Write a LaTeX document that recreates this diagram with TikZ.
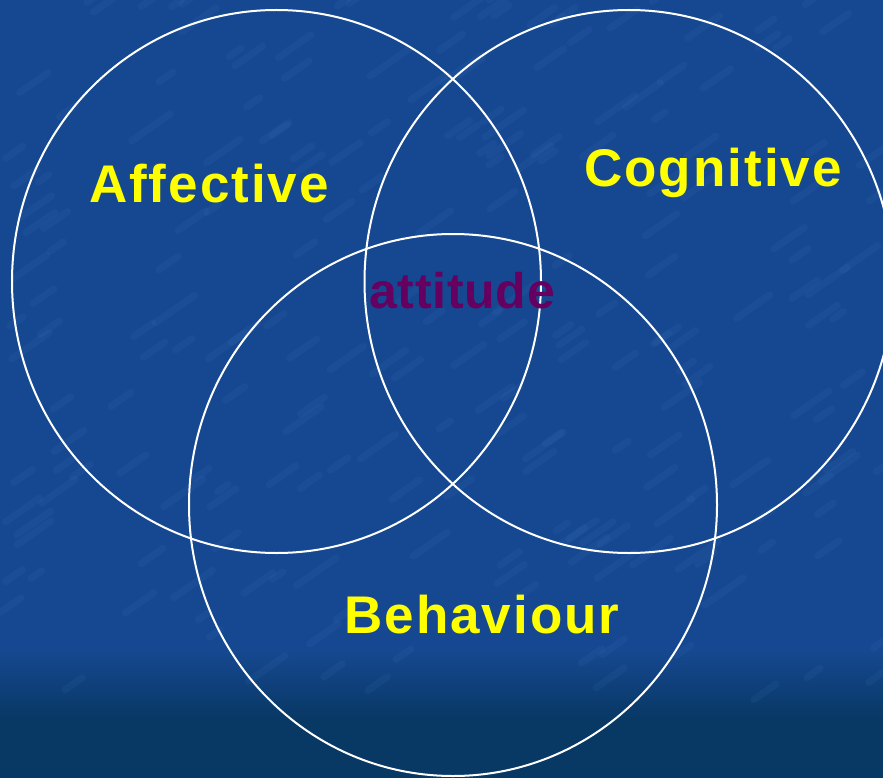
\documentclass[tikz,border=0pt]{standalone}
\usepackage{fontspec}
\setmainfont{Liberation Sans}
\newfontfamily\lblfont[LetterSpace=3.8]{Liberation Sans Bold}
\newfontfamily\attfont[LetterSpace=1.5]{Liberation Sans Bold}
\definecolor{bgtop}{RGB}{22,72,145}
\definecolor{bgbot}{RGB}{8,56,100}
\definecolor{streak}{RGB}{70,130,200}
\definecolor{lblyellow}{RGB}{255,255,0}
\definecolor{attpurple}{RGB}{102,0,96}
\tikzset{
  ring/.style={draw=white, line width=2pt},
  texture/.style={draw=streak, line width=7pt, line cap=round, opacity=0.10},
  lbl/.style={text=lblyellow, font=\lblfont\fontsize{53}{60}\selectfont, anchor=base, inner sep=0pt},
  att/.style={text=attpurple, font=\attfont\fontsize{50}{56}\selectfont, anchor=base, inner sep=0pt}
}
\begin{document}
\begin{tikzpicture}[x=1pt,y=-1pt]
\useasboundingbox (0,0) rectangle (883,778);
\fill[bgtop] (0,0) rectangle (883,650);
\shade[top color=bgtop, bottom color=bgbot] (0,649.5) rectangle (883,720);
\fill[bgbot] (0,719.5) rectangle (883,778);
\begin{scope}
\clip (0,0) rectangle (883,778);
\pgfmathsetseed{11}
\foreach \i in {1,...,220}{
  \pgfmathsetmacro{\sx}{rnd*883}
  \pgfmathsetmacro{\sy}{rnd*700}
  \pgfmathsetmacro{\sl}{10+rnd*30}
  \draw[texture] (\sx,\sy) -- ++(\sl,-0.7*\sl);
}
\draw[ring] (276.5,281.5) ellipse [x radius=264.5, y radius=271.5];
\draw[ring] (629,281.5) ellipse [x radius=264.5, y radius=271.5];
\draw[ring] (453,505) ellipse [x radius=264, y radius=271];
\end{scope}
\node[lbl] (aff) at (209,203) {Affective};
\node[lbl] (cog) at (713,187) {Cognitive};
\node[lbl] (beh) at (482,633) {Behaviour};
\node[att] (att) at (462,308) {attitude};
\end{tikzpicture}
\end{document}
